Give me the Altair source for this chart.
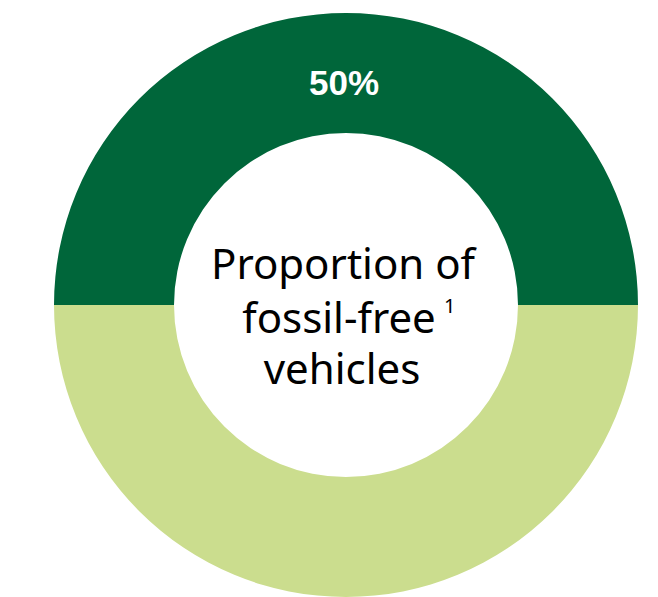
import altair as alt
import pandas as pd
import math

categories = ["Fossil-free", "Other"]
values = [50, 50]
colors = ["#00663A", "#CBDD8E"]
center_lines = ["Proportion of", "fossil-free", "vehicles"]
footnote = "1"
pct_label = "50%"

df = pd.DataFrame({"cat": categories, "val": values, "idx": list(range(len(values)))})

CX, CY = 346, 305

arc = alt.Chart(df).mark_arc(outerRadius=292, innerRadius=172).encode(
    theta=alt.Theta("val:Q", stack=True, scale=alt.Scale(range=[-math.pi / 2, 3 * math.pi / 2])),
    color=alt.Color("cat:N", scale=alt.Scale(domain=categories, range=colors), legend=None),
    order=alt.Order("idx:Q"),
    x=alt.value(CX),
    y=alt.value(CY),
)

pct = alt.Chart(pd.DataFrame({"t": [pct_label]})).mark_text(
    font="Liberation Sans", fontWeight="bold", fontSize=35, color="white",
    align="center", baseline="alphabetic"
).encode(text="t:N", x=alt.value(344), y=alt.value(95))

line_y = [279, 333, 384]
line_x = [343, 339, 342]
texts = []
for t, xx, yy in zip(center_lines, line_x, line_y):
    texts.append(
        alt.Chart(pd.DataFrame({"t": [t]})).mark_text(
            font="Noto Sans", fontSize=42, color="black", align="center", baseline="alphabetic"
        ).encode(text="t:N", x=alt.value(xx), y=alt.value(yy))
    )

sup = alt.Chart(pd.DataFrame({"t": [footnote]})).mark_text(
    font="Noto Sans", fontSize=20, color="black", align="left", baseline="alphabetic"
).encode(text="t:N", x=alt.value(444), y=alt.value(313))

chart = alt.layer(arc, pct, *texts, sup).properties(
    width=658, height=597, autosize=alt.AutoSizeParams(type="none"), padding=0
).configure_view(stroke=None)

chart.save("out.html", embed_options={"renderer": "svg", "actions": False})
